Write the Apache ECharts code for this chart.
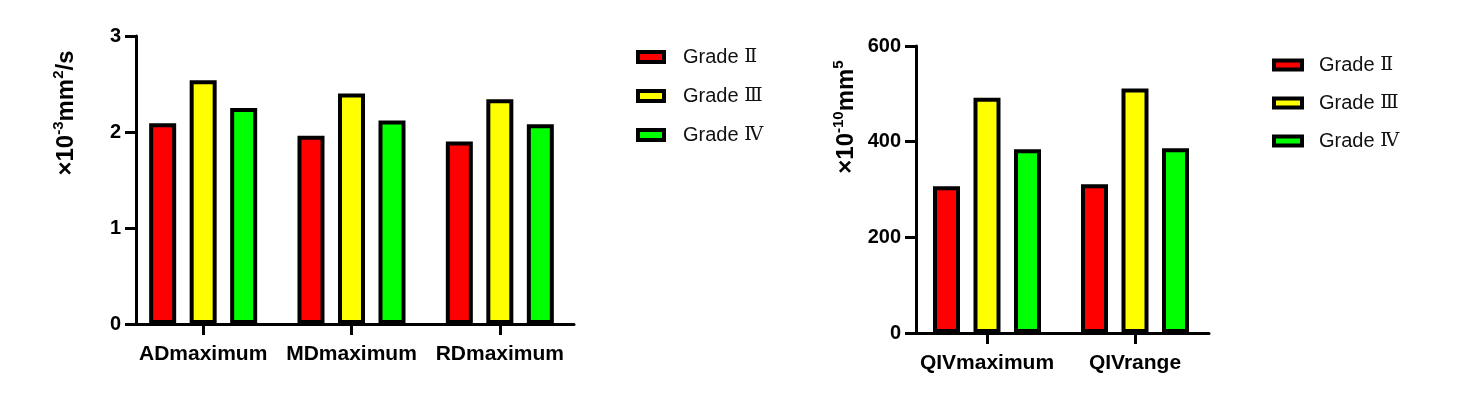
<!DOCTYPE html>
<html>
<head>
<meta charset="utf-8">
<script src="https://cdn.jsdelivr.net/npm/echarts@6/dist/echarts.min.js"></script>
<style>
html,body{margin:0;padding:0;background:#fff;}
#c{width:1458px;height:399px;}
</style>
</head>
<body>
<div id="c"></div>
<script>
// ---- data ----
const gradeNames = ['Grade Ⅱ', 'Grade Ⅲ', 'Grade Ⅳ'];
const leftCategories = ['ADmaximum', 'MDmaximum', 'RDmaximum'];
const leftGrade2 = [2.09, 1.96, 1.90];
const leftGrade3 = [2.54, 2.40, 2.34];
const leftGrade4 = [2.25, 2.12, 2.08];
const rightCategories = ['QIVmaximum', 'QIVrange'];
const rightGrade2 = [307, 311];
const rightGrade3 = [492, 511];
const rightGrade4 = [384, 386];
const gradeColors = ['#ff0000', '#ffff00', '#00ff00'];

const chart = echarts.init(document.getElementById('c'), null, {renderer: 'canvas'});
const FONT = 'Liberation Sans, Arial, sans-serif';

function xAxisCfg(gridIndex, data) {
  return {
    type: 'category', gridIndex, data,
    axisLine: {show: true, lineStyle: {color: '#000', width: 3}},
    axisTick: {show: true, alignWithLabel: true, interval: 0, length: 11, lineStyle: {color: '#000', width: 3}},
    axisLabel: {interval: 0, color: '#000', fontFamily: FONT, fontWeight: 'bold', fontSize: 21, margin: 20}
  };
}
function yAxisCfg(gridIndex, max, interval, offset) {
  return {
    type: 'value', gridIndex, min: 0, max, interval, offset,
    splitLine: {show: false},
    axisLine: {show: true, lineStyle: {color: '#000', width: 3}},
    axisTick: {show: true, length: 11, lineStyle: {color: '#000', width: 3}},
    axisLabel: {color: '#000', fontFamily: FONT, fontWeight: 'bold', fontSize: 20, margin: 15}
  };
}
function barSeries(name, data, color, idx) {
  return {
    name, type: 'bar', data, xAxisIndex: idx, yAxisIndex: idx,
    barWidth: 27, barGap: '50%',
    itemStyle: {color, borderColor: '#000', borderWidth: 4},
    emphasis: {disabled: true}, animation: false
  };
}
function legendCfg(left, top, w, h, pad, gap) {
  return {
    left, top, padding: 0, orient: 'vertical', itemWidth: w, itemHeight: h, itemGap: gap,
    icon: 'rect', data: gradeNames,
    itemStyle: {borderColor: '#000', borderWidth: 4},
    formatter: function (name) {
      const parts = name.split(' ');
      return '{t|' + parts[0] + ' }{r|' + parts[1] + '}';
    },
    textStyle: {
      color: '#111', fontFamily: FONT, fontSize: 20, padding: [0, 0, 0, pad],
      rich: {
        t: {color: '#111', fontFamily: FONT, fontSize: 20},
        r: {color: '#111', fontFamily: 'DejaVu Serif', fontSize: 19}
      }
    }
  };
}
const titleRich = {
  m: {fontFamily: FONT, fontWeight: 'bold', fontSize: 24, lineHeight: 30, color: '#000'},
  s: {fontFamily: FONT, fontWeight: 'bold', fontSize: 15, lineHeight: 15, color: '#000', verticalAlign: 'top'}
};

chart.setOption({
  animation: false,
  grid: [
    {left: 129, top: 36, width: 445, height: 288},
    {left: 913, top: 46, width: 296, height: 287}
  ],
  xAxis: [xAxisCfg(0, leftCategories), xAxisCfg(1, rightCategories)],
  yAxis: [yAxisCfg(0, 3, 1, -7), yAxisCfg(1, 600, 200, -3)],
  legend: [legendCfg(636, 47, 26, 10, 14, 19), legendCfg(1272, 55, 28, 9, 12, 18)],
  series: [
    barSeries(gradeNames[0], leftGrade2, gradeColors[0], 0),
    barSeries(gradeNames[1], leftGrade3, gradeColors[1], 0),
    barSeries(gradeNames[2], leftGrade4, gradeColors[2], 0),
    barSeries(gradeNames[0], rightGrade2, gradeColors[0], 1),
    barSeries(gradeNames[1], rightGrade3, gradeColors[1], 1),
    barSeries(gradeNames[2], rightGrade4, gradeColors[2], 1)
  ],
  graphic: [
    {type: 'text', x: 66, y: 113, rotation: Math.PI / 2,
     style: {text: '{m|×10}{s|-3}{m|mm}{s|2}{m|/s}', rich: titleRich, align: 'center', verticalAlign: 'middle'}},
    {type: 'text', x: 846, y: 117, rotation: Math.PI / 2,
     style: {text: '{m|×10}{s|-10}{m|mm}{s|5}', rich: titleRich, align: 'center', verticalAlign: 'middle'}}
  ]
});
</script>
</body>
</html>
